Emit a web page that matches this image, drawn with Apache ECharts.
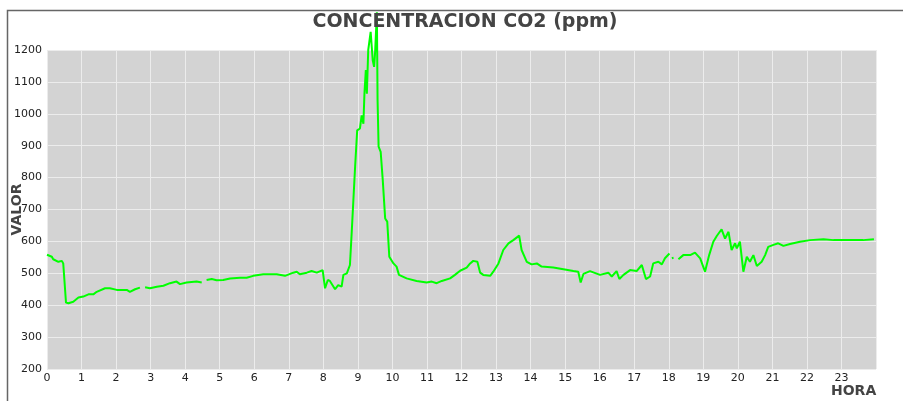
<!DOCTYPE html>
<html>
<head>
<meta charset="utf-8">
<script src="https://cdn.jsdelivr.net/npm/echarts@6/dist/echarts.min.js"></script>
<style>html,body{margin:0;padding:0;background:#fff}#c{width:903px;height:401px}</style>
</head>
<body>
<div id="c"></div>
<script>
var titleText = 'CONCENTRACION CO2 (ppm)';
var xName = 'HORA';
var yName = 'VALOR';
var xTicks = [0,1,2,3,4,5,6,7,8,9,10,11,12,13,14,15,16,17,18,19,20,21,22,23];
var yTicks = [200,300,400,500,600,700,800,900,1000,1100,1200];

var hours = [0.00,0.04,0.14,0.18,0.33,0.43,0.47,0.55,0.62,0.76,0.91,1.05,1.20,1.34,1.44,1.68,1.82,2.02,2.31,2.40,2.55,2.69,2.76,
  2.84,2.98,3.18,3.37,3.56,3.75,3.85,4.04,4.33,4.48,4.55,
  4.62,4.77,4.91,5.10,5.30,5.59,5.78,5.97,6.26,6.65,6.89,7.13,7.23,7.32,7.52,7.66,7.81,7.98,8.05,8.08,8.13,8.19,8.34,8.43,8.53,8.58,8.68,8.77,8.82,8.87,8.92,8.98,9.06,9.11,9.16,9.19,9.23,9.26,9.30,9.37,9.43,9.47,9.50,9.55,9.57,9.60,9.66,9.72,9.79,9.85,9.91,10.03,10.12,10.19,10.41,10.70,10.99,11.14,11.28,11.43,11.67,11.81,11.96,12.15,12.25,12.34,12.46,12.54,12.63,12.83,12.92,13.07,13.21,13.36,13.50,13.67,13.74,13.89,14.03,14.18,14.32,14.66,14.95,15.24,15.38,15.45,15.53,15.72,16.01,16.25,16.35,16.49,16.57,16.69,16.88,17.07,17.22,17.34,17.46,17.55,17.70,17.80,17.89,18.02,18.05,
  18.09,18.14,18.20,
  18.28,18.42,18.62,18.76,18.91,19.05,19.17,19.29,19.39,19.53,19.63,19.73,19.82,19.92,19.97,20.06,20.16,20.26,20.35,20.45,20.55,20.69,20.79,20.88,21.03,21.17,21.32,21.51,21.80,22.09,22.48,22.77,23.05,23.34,23.63,23.94];
var co2 = [558,560,552,544,536,539,531,408,406,411,424,427,434,434,442,453,453,448,448,442,450,455,null,
  456,453,458,461,469,474,466,471,474,471,null,
  479,482,478,479,484,486,486,492,497,497,492,502,505,497,502,507,502,510,453,458,479,476,450,463,458,495,500,526,625,730,834,948,954,995,969,1063,1137,1063,1200,1257,1168,1147,1195,1318,1043,897,881,793,672,662,552,531,521,495,484,476,471,474,469,476,484,495,508,518,531,539,536,502,495,492,505,531,573,594,604,618,573,536,528,531,521,518,513,507,505,471,498,507,495,502,490,507,482,495,510,507,526,482,490,531,536,528,547,562,null,
  547,549,null,
  544,557,557,565,547,505,557,599,617,638,609,630,573,594,578,599,505,552,536,557,523,536,557,583,589,594,586,592,599,604,607,604,604,604,604,607];

var data = hours.map(function(h, i){ return [h, co2[i]]; });

var chart = echarts.init(document.getElementById('c'), null, {renderer:'canvas'});
chart.setOption({
  animation: false,
  backgroundColor: '#ffffff',
  title: {
    text: titleText, left: 460, top: 8, textAlign: 'center',
    textStyle: {fontFamily: 'DejaVu Sans', fontWeight: 'bold', fontSize: 19, color: '#444444'}
  },
  graphic: [{
    type: 'polyline', silent: true, z: 100,
    shape: {points: [[7.5, 420], [7.5, 10.5], [920, 10.5]]},
    style: {stroke: '#666666', lineWidth: 1.5, fill: null}
  }],
  grid: {left: 47, top: 50, width: 829, height: 319, containLabel: false, outerBoundsMode: 'none',
    show: true, backgroundColor: '#d3d3d3', borderWidth: 0},
  xAxis: {
    type: 'value', min: 0, max: 24, interval: 1,
    name: xName, nameLocation: 'end', nameGap: -45, nameMoveOverlap: false,
    nameTextStyle: {fontFamily: 'DejaVu Sans', fontWeight: 'bold', fontSize: 14, color: '#444444', align: 'left', verticalAlign: 'top', padding: [15, 0, 0, 0]},
    axisLine: {show: false}, axisTick: {show: false},
    axisLabel: {fontFamily: 'DejaVu Sans', fontSize: 11, color: '#222222', margin: 4, showMaxLabel: false,
      formatter: function(v){ return xTicks.indexOf(v) >= 0 ? String(v) : ''; }},
    splitLine: {show: true, lineStyle: {color: '#ececec', width: 1}}
  },
  yAxis: {
    type: 'value', min: 200, max: 1200, interval: 100,
    name: yName, nameLocation: 'middle', nameGap: 23, nameMoveOverlap: false,
    nameTextStyle: {fontFamily: 'DejaVu Sans', fontWeight: 'bold', fontSize: 14, color: '#444444'},
    axisLine: {show: false}, axisTick: {show: false},
    axisLabel: {fontFamily: 'DejaVu Sans', fontSize: 11, color: '#222222', margin: 5,
      formatter: function(v){ return yTicks.indexOf(v) >= 0 ? String(v) : ''; }},
    splitLine: {show: true, lineStyle: {color: '#ececec', width: 1}}
  },
  series: [{
    type: 'line', data: data, showSymbol: false, connectNulls: false, clip: false,
    lineStyle: {color: '#00ff00', width: 2}, itemStyle: {color: '#00ff00'}
  }]
});
</script>
</body>
</html>
